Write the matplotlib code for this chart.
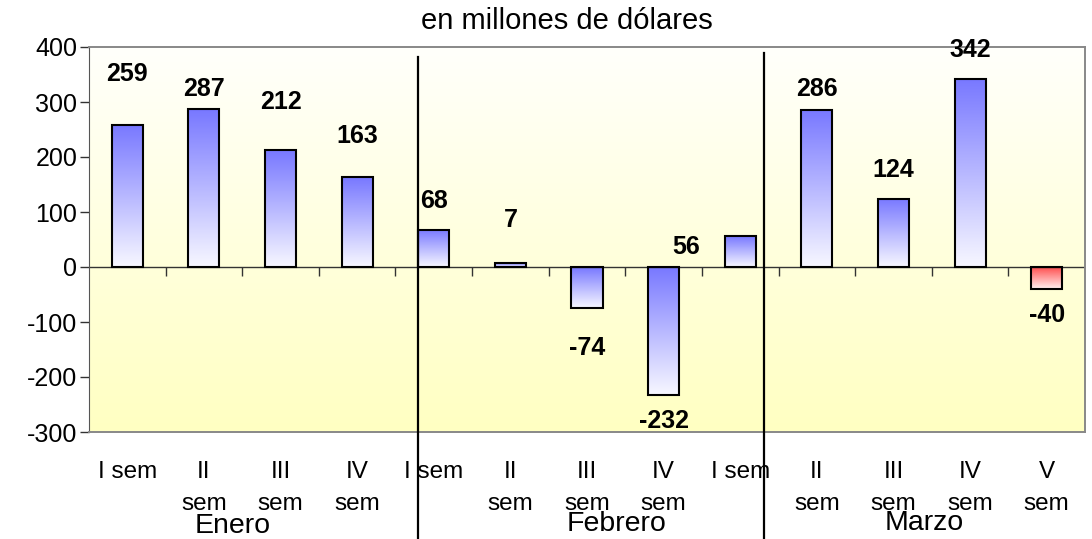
import numpy as np
import matplotlib.pyplot as plt
from matplotlib import transforms

# datos: balanza semanal (en millones de dolares)
semanas = ['I sem', 'II\nsem', 'III\nsem', 'IV\nsem',
           'I sem', 'II\nsem', 'III\nsem', 'IV\nsem', 'I sem',
           'II\nsem', 'III\nsem', 'IV\nsem', 'V\nsem']
valores = [259, 287, 212, 163, 68, 7, -74, -232, 56, 286, 124, 342, -40]
meses = ['Enero', 'Febrero', 'Marzo']
tono = ['azul'] * 12 + ['rojo']

# ubicacion de las etiquetas (como en el original, movidas a mano)
etiq_y = [351, 324, 300, 238, 120, 85, -147, -280, 36, 324, 176, 395, -87]
etiq_dx = [0, 0, 0, 0, 0, 0, 0, 0, -0.71, 0, 0, 0, 0]
mes_x = [1.38, 6.39, 10.4]
mes_y = [-0.243, -0.240, -0.236]
separadores = [(3.795, 382), (8.312, 389)]

colores = {'azul': ((0.47, 0.47, 1.0), (0.97, 0.97, 1.0)),
           'rojo': ((1.0, 0.31, 0.31), (1.0, 0.95, 0.95))}

plt.rcParams['font.family'] = ['Liberation Sans', 'DejaVu Sans']
plt.rcParams['axes.unicode_minus'] = False

fig = plt.figure(figsize=(10.92, 5.39), dpi=100)
ax = fig.add_axes([89 / 1092, 1 - 432 / 539, 996 / 1092, 385 / 539])

x = np.arange(len(valores))
n = len(valores)

# fondo degradado blanco -> amarillo
g = np.linspace(0, 1, 256)[:, None, None]
c_sup = np.array([1.0, 1.0, 0.985])
c_inf = np.array([1.0, 1.0, 0.76])
fondo = c_sup + (c_inf - c_sup) * g
ax.imshow(fondo, extent=(-0.5, n - 0.5, -300, 400), aspect='auto', origin='upper', zorder=0)

barras = ax.bar(x, valores, width=0.405, facecolor='none', edgecolor='black', linewidth=1.5, zorder=3)
for b, t in zip(barras, tono):
    arriba, abajo = colores[t]
    img = np.array(arriba) + (np.array(abajo) - np.array(arriba)) * g
    y0 = min(b.get_y(), b.get_y() + b.get_height())
    y1 = max(b.get_y(), b.get_y() + b.get_height())
    im = ax.imshow(img, extent=(b.get_x(), b.get_x() + b.get_width(), y0, y1),
                   aspect='auto', origin='upper', zorder=2)
    im.set_clip_path(b)

ax.axhline(0, color='#333333', lw=1, zorder=2.5)
ax.vlines(np.arange(0.5, n - 0.5, 1), -16, 0, color='#333333', lw=1, zorder=2.5)

for i, v in enumerate(valores):
    ax.text(i + etiq_dx[i], etiq_y[i], str(v), ha='center', va='center',
            fontsize=18, fontweight='bold', zorder=5)

for sx, top in separadores:
    ax.plot([sx, sx], [top, -520], color='black', lw=1.6, clip_on=False, zorder=6)

ax.set_xlim(-0.5, n - 0.5)
ax.set_ylim(-300, 400)
ax.set_yticks(range(-300, 401, 100))
ax.tick_params(axis='y', labelsize=18, length=6.5, width=1, pad=2, color='#333333')
ax.set_xticks(x)
ax.set_xticklabels(semanas, fontsize=17.5, linespacing=1.6)
ax.tick_params(axis='x', length=0, pad=21)

for s in ['top', 'right', 'bottom']:
    ax.spines[s].set_color('#888888')
    ax.spines[s].set_linewidth(1.4)
ax.spines['left'].set_color('#555555')

tr = transforms.blended_transform_factory(ax.transData, ax.transAxes)
for mx, my, m in zip(mes_x, mes_y, meses):
    ax.text(mx, my, m, transform=tr, ha='center', va='center', fontsize=20.5)

fig.text(567 / 1092, 1 - 21 / 539, 'en millones de dólares', ha='center', va='center', fontsize=21)

fig.savefig('out.png', dpi=100)
